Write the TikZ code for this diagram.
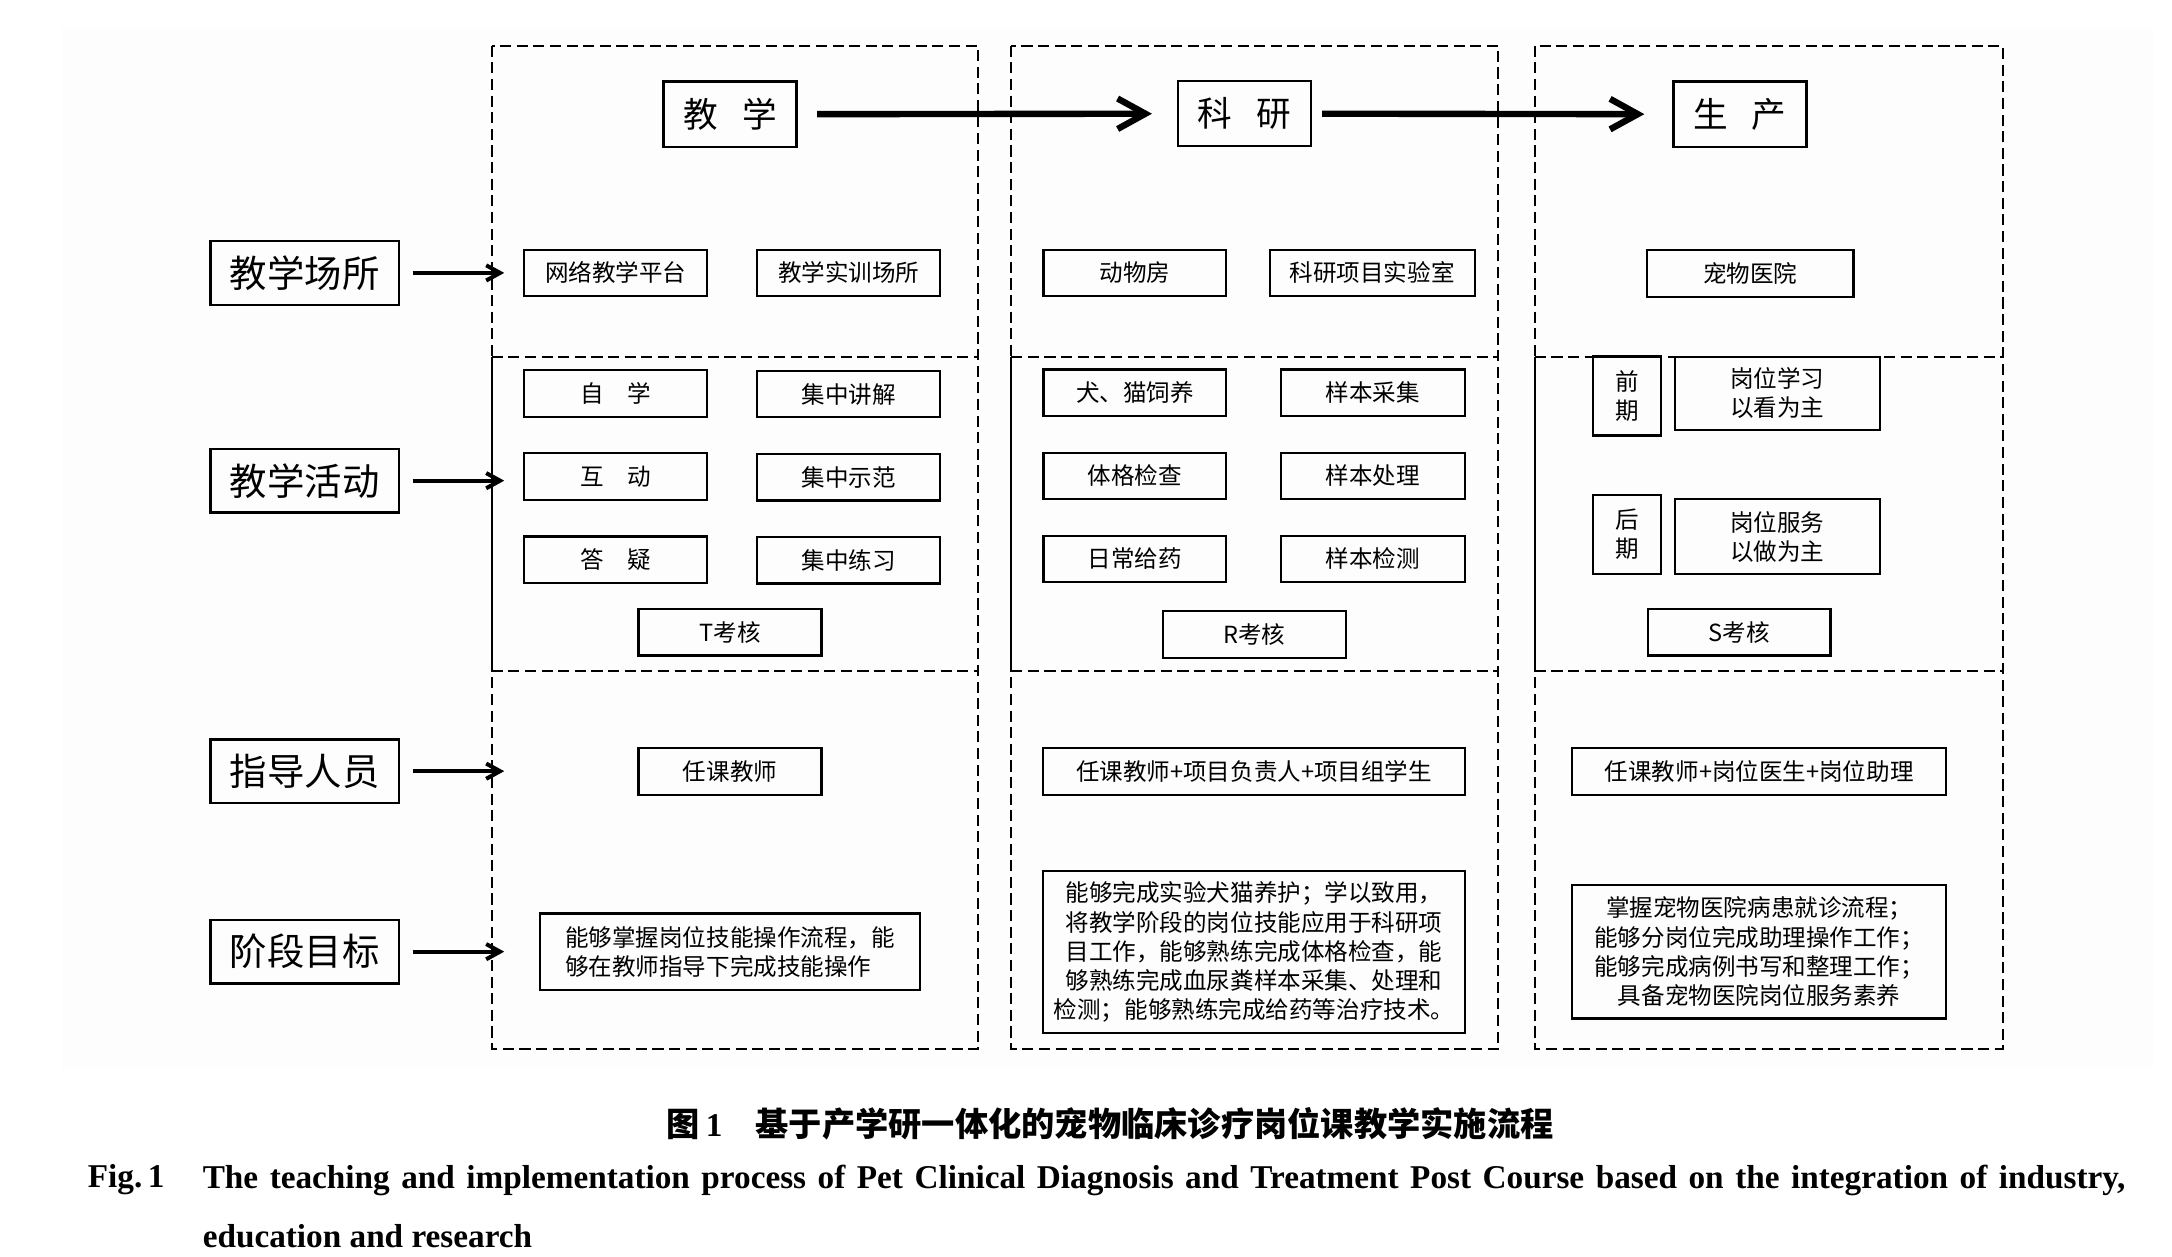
\documentclass[tikz,border=0pt]{standalone}
\usepackage{fontspec}
\setmainfont{Liberation Serif}
\newfontfamily\cjk{Noto Sans CJK SC}
\usepackage{tikz}
\usetikzlibrary{arrows.meta}
\tikzstyle{headbox} = [rectangle, draw=black, line width=0.9pt, minimum width=48pt, minimum height=23.5pt, inner sep=0pt, font=\cjk\fontsize{12.5}{14}\selectfont]
\tikzstyle{sidebox} = [rectangle, draw=black, line width=0.9pt, minimum width=68pt, minimum height=23pt, inner sep=0pt, font=\cjk\fontsize{13.5}{15}\selectfont]
\tikzstyle{itembox} = [rectangle, draw=black, line width=0.8pt, minimum width=66pt, minimum height=16.75pt, inner sep=0pt, align=center, font=\cjk\fontsize{8.5}{10.5}\selectfont]
\tikzstyle{column} = [line width=0.7pt, dash pattern=on 4pt off 2pt]
\tikzstyle{arrow} = [line width=1.45pt, -{Straight Barb[length=5pt, width=5.5pt]}]
\tikzstyle{bigarrow} = [line width=2.3pt, -{Straight Barb[length=10pt, width=11pt]}]

\begin{document}
\begin{tikzpicture}[x=0.5pt, y=-0.5pt, node distance=30pt]

	\useasboundingbox (0,0) rectangle (1568,907);
	\fill [black!0.8] (45,20) rectangle (1554,772);

	% three stages
	\draw [column] (355,33) rectangle (706,757);
	\draw [column] (355,258) -- (706,258);
	\draw [column] (355,484.5) -- (706,484.5);
	\draw [line width=0.7pt] (355,258) -- (355,484.5);
	\draw [column] (730,33) rectangle (1081.7,757);
	\draw [column] (730,258) -- (1081.7,258);
	\draw [column] (730,484.5) -- (1081.7,484.5);
	\draw [line width=0.7pt] (730,258) -- (730,484.5);
	\draw [column] (1108,33) rectangle (1445.7,757);
	\draw [column] (1108,258) -- (1445.7,258);
	\draw [column] (1108,484.5) -- (1445.7,484.5);
	\draw [line width=0.7pt] (1108,258) -- (1108,484.5);

	\node (teach) [headbox] at (527,82.5) {教\hspace{0.7em}学};
	\node (research) [headbox] at (898.5,82) {科\hspace{0.7em}研};
	\node (produce) [headbox] at (1256,82.5) {生\hspace{0.7em}产};

	\node (place) [sidebox] at (220,197) {教学场所};
	\node (activity) [sidebox] at (220,347) {教学活动};
	\node (staff) [sidebox] at (220,556.7) {指导人员};
	\node (goal) [sidebox] at (220,687) {阶段目标};
	\coordinate (entry) at (364,0);

	% teaching
	\node (online) [itembox] at (444.5,197) {网络教学平台};
	\node (training) [itembox] at (612.75,197) {教学实训场所};
	\node (self) [itembox] at (444.5,284) {自\quad 学};
	\node (interact) [itembox, below of=self] {互\quad 动};
	\node (answer) [itembox, below of=interact] {答\quad 疑};
	\node (lecture) [itembox] at (612.75,284.5) {集中讲解};
	\node (demo) [itembox, below of=lecture] {集中示范};
	\node (practice) [itembox, below of=demo] {集中练习};
	\node (testT) [itembox] at (527,456.5) {T考核};

	% research
	\node (animal) [itembox] at (819.3,197) {动物房};
	\node (lab) [itembox, minimum width=74pt] at (990.6,197) {科研项目实验室};
	\node (raise) [itembox] at (819.3,283.5) {犬、猫饲养};
	\node (exam) [itembox, below of=raise] {体格检查};
	\node (dose) [itembox, below of=exam] {日常给药};
	\node (sample) [itembox, minimum width=66.5pt] at (991.1,283.5) {样本采集};
	\node (handle) [itembox, minimum width=66.5pt, below of=sample] {样本处理};
	\node (detect) [itembox, minimum width=66.5pt, below of=handle] {样本检测};
	\node (testR) [itembox] at (905.5,458) {R考核};

	% production
	\node (hospital) [itembox, minimum width=74.5pt] at (1263.5,197.5) {宠物医院};
	\node (early) [itembox, minimum width=24.5pt, minimum height=28.5pt] at (1174.5,285.9) {前\\期};
	\node (learn) [itembox, minimum width=74pt, minimum height=26.5pt] at (1283,284) {岗位学习\\以看为主};
	\node (late) [itembox, minimum width=24.5pt, minimum height=28.5pt] at (1174.5,385.9) {后\\期};
	\node (serve) [itembox, minimum width=74pt, minimum height=27pt] at (1283,387.4) {岗位服务\\以做为主};
	\node (testS) [itembox] at (1255.5,456.5) {S考核};

	% staff and goals
	\node (teacherT) [itembox, minimum height=17pt] at (527,557) {任课教师};
	\node (teacherR) [itembox, minimum width=152.3pt, minimum height=17pt] at (905.3,557) {任课教师+项目负责人+项目组学生};
	\node (teacherS) [itembox, minimum width=135pt, minimum height=17pt] at (1270,557) {任课教师+岗位医生+岗位助理};
	\node (goalT) [itembox, minimum width=137pt, minimum height=27.5pt, align=left] at (527,687) {能够掌握岗位技能操作流程，能\\够在教师指导下完成技能操作};
	\node (goalR) [itembox, minimum width=152.3pt, minimum height=58.3pt] at (905.3,687.3) {能够完成实验犬猫养护；学以致用，\\将教学阶段的岗位技能应用于科研项\\目工作，能够熟练完成体格检查，能\\够熟练完成血尿粪样本采集、处理和\\检测；能够熟练完成给药等治疗技术。};
	\node (goalS) [itembox, minimum width=135pt, minimum height=48.25pt] at (1270,687) {掌握宠物医院病患就诊流程；\\能够分岗位完成助理操作工作；\\能够完成病例书写和整理工作；\\具备宠物医院岗位服务素养};

	\draw [bigarrow, shorten <=7pt, shorten >=9pt] (teach) -- (research);
	\draw [bigarrow, shorten <=3.5pt, shorten >=10pt] (research) -- (produce);
	\draw [arrow, shorten <=4.5pt] (place) -- (place -| entry);
	\draw [arrow, shorten <=4.5pt] (activity) -- (activity -| entry);
	\draw [arrow, shorten <=4.5pt] (staff) -- (staff -| entry);
	\draw [arrow, shorten <=4.5pt] (goal) -- (goal -| entry);

	% caption
	\node (titlecn) [font=\cjk\bfseries\fontsize{12}{14}\selectfont] at (801.5,811) {图\,{\rmfamily 1}\quad 基于产学研一体化的宠物临床诊疗岗位课教学实施流程};
	\node (figlabel) [anchor=base west, inner sep=0pt, font=\bfseries\fontsize{12}{21}\selectfont] at (63,857) {Fig.\,1};
	\node (titleen) [anchor=north west, text width=694pt, align=justify, inner sep=0pt, font=\bfseries\fontsize{12}{21}\selectfont] at (146,841) {The teaching and implementation process of Pet Clinical Diagnosis and Treatment Post Course based on the integration of industry,\linebreak education and research};

\end{tikzpicture}
\end{document}
